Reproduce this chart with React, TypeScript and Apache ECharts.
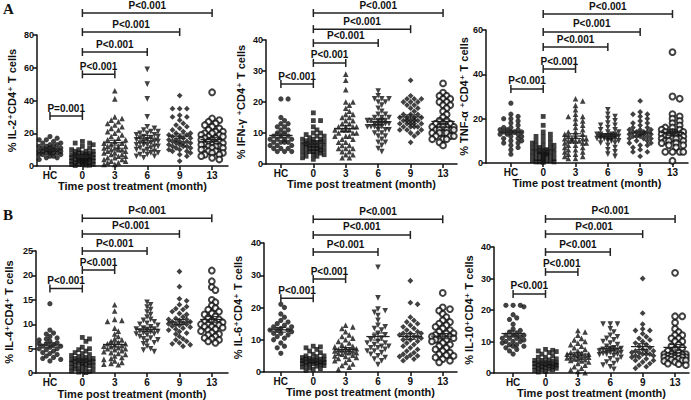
import React, { useEffect, useRef } from 'react';
import * as echarts from 'echarts';

const categories = ['HC', '0', '3', '6', '9', '13'];
const xTitle = 'Time post treatment (month)';
const comparisons = [[0, 1], [1, 2], [1, 3], [1, 4], [1, 5]];

// IL-2
const il2HC = [18, 17, 16, 16, 15, 14, 14, 13, 13, 12, 12, 11, 11, 10, 10, 10, 9, 9, 9, 8, 8, 8, 7, 7, 7, 6, 6, 5, 5, 4, 12, 11, 9, 8];
const il2M0 = [15, 14, 14, 13, 12, 11, 10, 10, 9, 9, 9, 8, 8, 8, 7, 7, 7, 7, 6, 6, 6, 6, 5, 5, 5, 5, 5, 4, 4, 4, 4, 3, 3, 3, 3, 2, 2, 2, 2, 1, 1, 1, 1, 0.5, 0.5, 0.3, 6, 5, 4, 3];
const il2M3 = [46, 41, 30, 29, 28, 27, 26, 25, 24, 23, 22, 21, 20, 19, 18, 17, 16, 16, 15, 14, 14, 13, 12, 12, 11, 11, 10, 10, 9, 9, 8, 8, 7, 7, 6, 6, 5, 5, 4, 4, 3, 3, 2, 2, 1, 1, 12, 10];
const il2M6 = [59, 50, 41, 30, 24, 23, 22, 21, 21, 20, 20, 19, 19, 18, 18, 17, 17, 16, 16, 15, 15, 14, 14, 13, 13, 12, 12, 11, 11, 10, 10, 9, 9, 8, 8, 7, 7, 6, 6, 5, 15, 13];
const il2M9 = [43, 35, 35, 35, 31, 30, 30, 28, 26, 25, 24, 23, 22, 21, 20, 20, 19, 19, 18, 18, 17, 17, 16, 16, 15, 15, 14, 14, 13, 13, 12, 12, 11, 11, 10, 10, 9, 9, 8, 7, 6, 3, 15, 14, 12];
const il2M13 = [45, 29, 28, 27, 26, 25, 24, 23, 22, 21, 21, 20, 20, 19, 19, 18, 18, 17, 17, 16, 16, 15, 15, 14, 14, 13, 13, 12, 12, 11, 11, 10, 10, 9, 9, 8, 8, 7, 7, 6, 5, 4, 13, 12];
const il2P = ['P=0.001', 'P<0.001', 'P<0.001', 'P<0.001', 'P<0.001'];

// IFN-gamma
const ifnHC = [21, 21, 15, 14, 13, 13, 12, 12, 11, 11, 10, 10, 9, 9, 8, 8, 8, 7, 7, 7, 6, 6, 6, 5, 5, 5, 4, 4, 4, 8, 9, 7];
const ifnM0 = [16.5, 14, 14, 12, 11, 10, 10, 9.5, 9, 9, 8.5, 8, 8, 8, 7.5, 7.5, 7, 7, 7, 6.5, 6.5, 6, 6, 6, 5.5, 5.5, 5, 5, 5, 4.5, 4.5, 4, 4, 4, 3.5, 3.5, 3, 3, 2.5, 2.5, 2, 1.5, 6, 5, 7, 4];
const ifnM3 = [29, 27, 24, 20, 20, 19, 18, 17, 16, 16, 15, 15, 14, 14, 13, 13, 12, 12, 12, 11, 11, 11, 10, 10, 10, 9, 9, 8, 8, 7, 7, 6, 6, 5, 5, 5, 4, 4, 3, 3, 2, 2, 11, 12, 9];
const ifnM6 = [23.5, 22, 21, 21, 21, 20, 20, 19, 18, 17, 16, 16, 15, 15, 15, 14, 14, 14, 14, 13, 13, 13, 13, 12, 12, 12, 12, 11, 11, 11, 10, 10, 9, 9, 8, 7, 7, 6, 5, 4, 13, 14, 12];
const ifnM9 = [27, 22, 21, 21, 21, 20, 20, 20, 19, 19, 18, 18, 17, 16, 16, 15, 15, 15, 14, 14, 14, 14, 13, 13, 13, 13, 12, 12, 12, 12, 11, 11, 11, 10, 10, 9, 7, 15, 16, 14, 13];
const ifnM13 = [26, 23, 22, 22, 21, 21, 20, 20, 19, 19, 18, 17, 16, 15, 14, 14, 13, 13, 12, 12, 12, 12, 11, 11, 11, 11, 11, 10, 10, 10, 10, 9, 9, 9, 8, 8, 8, 7, 6, 12, 11, 13];
const ifnP = ['P<0.001', 'P<0.001', 'P<0.001', 'P<0.001', 'P<0.001'];

// TNF-alpha
const tnfHC = [27, 22, 21, 20, 20, 19, 18, 17, 16, 16, 15, 15, 14, 14, 14, 13, 13, 12, 12, 11, 11, 10, 10, 9, 9, 8, 7, 6, 4, 15, 13, 14];
const tnfM0 = [21, 17, 14, 13, 12, 12, 11, 10, 10, 9, 9, 8, 8, 8, 7, 7, 7, 6, 6, 6, 5, 5, 5, 5, 4, 4, 4, 4, 3, 3, 3, 3, 2, 2, 2, 2, 1, 1, 1, 1, 0.5, 0.5, 0.5, 0.3, 6, 5, 4];
const tnfM3 = [29, 28, 26, 24, 22, 21, 21, 20, 19, 18, 17, 16, 15, 14, 14, 13, 13, 12, 12, 11, 11, 11, 10, 10, 10, 9, 9, 9, 8, 8, 7, 7, 6, 6, 5, 5, 4, 4, 3, 3, 2, 2, 11, 10];
const tnfM6 = [24, 22, 21, 20, 19, 18, 17, 17, 16, 15, 15, 14, 14, 13, 13, 13, 12, 12, 12, 12, 12, 11, 11, 11, 11, 11, 10, 10, 10, 9, 9, 8, 7, 6, 5, 4, 3, 12, 13, 11];
const tnfM9 = [28, 23, 22, 22, 21, 20, 19, 18, 18, 17, 16, 16, 15, 15, 15, 14, 14, 14, 13, 13, 13, 12, 12, 12, 11, 11, 11, 10, 10, 9, 9, 8, 8, 7, 6, 5, 5, 3, 14, 13, 12];
const tnfM13 = [50, 30, 29, 22, 21, 20, 19, 18, 17, 16, 16, 15, 15, 14, 14, 14, 13, 13, 13, 13, 12, 12, 12, 12, 11, 11, 11, 11, 10, 10, 10, 9, 9, 8, 8, 7, 5, 5, 5, 5, 1, 13, 12];
const tnfP = ['P<0.001', 'P<0.001', 'P<0.001', 'P<0.001', 'P<0.001'];

// IL-4
const il4HC = [14.2, 8.8, 8.2, 8, 7.5, 7.2, 7, 6.8, 6.5, 6.2, 6, 5.8, 5.5, 5.3, 5, 4.8, 4.5, 4.2, 4, 3.8, 3.5, 3.2, 3, 2.8, 2.5, 6, 5.5, 5];
const il4M0 = [7.3, 7, 6.5, 5.3, 5, 4.8, 4.5, 4.2, 4, 3.8, 3.6, 3.4, 3.2, 3, 3, 2.8, 2.6, 2.5, 2.4, 2.2, 2, 2, 1.8, 1.6, 1.5, 1.4, 1.2, 1, 1, 0.8, 0.6, 0.5, 0.4, 0.3, 0.2, 0.1, 2.5, 2.3, 2, 3, 1.5, 2.7];
const il4M3 = [14, 12.7, 11, 10.8, 10.6, 9.2, 8.6, 8, 7.5, 7, 6.8, 6.5, 6.3, 6, 5.8, 5.6, 5.4, 5.2, 5, 4.8, 4.6, 4.4, 4.2, 4, 3.8, 3.5, 3.2, 3, 2.8, 2.5, 2.2, 2, 1.8, 1.7, 5.5, 6, 5];
const il4M6 = [14.5, 14, 13.5, 13, 12.5, 12, 11.5, 11, 10.8, 10.5, 10.2, 10, 9.8, 9.5, 9.2, 9, 8.8, 8.6, 8.4, 8.2, 8, 7.8, 7.5, 7.2, 7, 6.8, 6.5, 6.2, 6, 5.5, 5, 4.7, 4.4, 9, 8.5, 8];
const il4M9 = [20.8, 17.7, 15.2, 14.8, 14, 13.6, 13.2, 13, 12.6, 12.2, 12, 11.5, 11.2, 11, 10.8, 10.5, 10.3, 10.1, 10, 9.8, 9.6, 9.4, 9.2, 9, 8.8, 8.5, 8.2, 8, 7.5, 7, 6.8, 6.5, 6.2, 6, 5.8, 5.5, 10.5, 10, 11];
const il4M13 = [21, 18.8, 17.6, 17, 15, 14.5, 13.8, 13.3, 13, 12.6, 12.2, 12, 11.6, 11.3, 11, 10.7, 10.4, 10.2, 10, 9.8, 9.5, 9.3, 9, 8.8, 8.6, 8.3, 8, 7.8, 7.5, 7.2, 7, 6.8, 6.5, 6.2, 10, 9.5, 10.5];
const il4P = ['P<0.001', 'P<0.001', 'P<0.001', 'P<0.001', 'P<0.001'];

// IL-6
const il6HC = [21, 20, 18, 17, 16, 15.5, 15, 14.5, 14, 13.5, 13, 13, 12.5, 12, 12, 11.5, 11, 10.5, 10, 9, 8, 7.5, 5.8, 13, 14];
const il6M0 = [8, 7.8, 7.5, 7, 6.5, 6, 5.5, 5, 5, 4.8, 4.5, 4.2, 4, 4, 3.8, 3.5, 3.3, 3, 3, 2.8, 2.5, 2.3, 2, 2, 1.8, 1.5, 1.2, 1, 0.8, 0.5, 3.5, 3, 4, 2.5, 3.2, 2.7];
const il6M3 = [14.5, 14, 13.5, 12.5, 11.5, 11, 10.5, 10, 9.5, 9, 8.5, 8, 7.8, 7.5, 7.2, 7, 6.8, 6.5, 6.2, 6, 5.8, 5.5, 5.2, 5, 4.8, 4.5, 4.2, 4, 3.5, 3, 2.5, 2, 1.5, 0.8, 6.5, 6, 7];
const il6M6 = [32.5, 23, 19.5, 19, 18.5, 17.5, 16, 14.5, 14, 13.5, 13, 12, 11.5, 11, 10.5, 10, 9.5, 9, 8.5, 8, 7.5, 7, 6.5, 6, 5.5, 5, 4.5, 4, 3.5, 2.3, 9, 8, 7.5, 6.5];
const il6M9 = [28.3, 21.5, 21, 17, 16, 15.5, 15, 14.5, 14, 13.5, 13, 12.5, 12, 12, 11.5, 11, 11, 10.5, 10, 10, 9.5, 9, 8.5, 8, 7.5, 7, 6.5, 6, 5.5, 5.2, 5, 4.8, 4.5, 4, 3.5, 11, 12];
const il6M13 = [24.5, 20, 19.5, 19, 18, 17, 16, 15.5, 15, 14.5, 14, 13.5, 13, 12.5, 12, 11.5, 11, 11, 10.5, 10, 10, 9.5, 9, 8.5, 8, 7.5, 7, 6.5, 6, 5.5, 5.2, 5, 4.5, 4, 3.5, 3, 11, 12, 10];
const il6P = ['P<0.001', 'P<0.001', 'P<0.001', 'P<0.001', 'P<0.001'];

// IL-10
const il10HC = [21.5, 21.5, 21.5, 21, 18.5, 17.5, 17, 15.5, 14, 13.5, 13, 12.5, 12, 12, 11.5, 11, 11, 10.5, 10, 10, 9.5, 9, 8.5, 8, 7.5, 7, 6, 12, 11, 9, 10, 8.5];
const il10M0 = [7.5, 7.2, 7, 6.8, 6.5, 6, 5.5, 5, 5, 4.5, 4.2, 4, 4, 3.8, 3.5, 3.2, 3, 3, 2.8, 2.5, 2.3, 2, 2, 1.8, 1.5, 1.2, 1, 0.8, 0.5, 0.3, 3, 2.5, 2, 3.5, 1.5, 2.7, 1];
const il10M3 = [13.5, 13, 12, 11, 10.5, 10, 9.5, 9, 8.5, 8, 7.5, 7, 6.5, 6.2, 6, 5.8, 5.5, 5.2, 5, 4.8, 4.5, 4.2, 4, 3.8, 3.5, 3, 2.5, 2, 1.5, 1, 0.5, 0.1, 5, 5.5, 4.5, 6];
const il10M6 = [15.5, 15.5, 15.5, 14, 13, 12, 11.5, 11, 10.5, 10, 9.5, 9, 8.5, 8, 7.8, 7.5, 7.2, 7, 6.8, 6.5, 6.2, 6, 5.8, 5.5, 5, 4.5, 4, 3.5, 3, 2.5, 2, 1.2, 7, 6.5, 7.5, 6];
const il10M9 = [30, 19, 15.5, 14, 13.5, 13.5, 12.5, 11.5, 11, 10.5, 10, 9.5, 9, 8.5, 8, 7.5, 7, 7, 6.5, 6.5, 6, 6, 5.5, 5, 5, 4.5, 4, 4, 3.5, 3, 2.5, 2, 1.5, 6, 5.5, 7];
const il10M13 = [31.8, 18, 18, 16, 14, 13, 12, 12, 11, 11, 10, 10, 9, 8.5, 8, 7.5, 7, 6.5, 6, 6, 5.8, 5.5, 5.5, 5.2, 5, 5, 4.8, 4.5, 4.5, 4.2, 4, 4, 3.8, 3.5, 3, 2.8, 2.5, 5, 6, 5.5];
const il10P = ['P<0.001', 'P<0.001', 'P<0.001', 'P<0.001', 'P<0.001'];

const FONT = '"Liberation Sans", Arial, "DejaVu Sans", sans-serif';
const INK = '#111';

const panels = [
  { title: '% IL-2⁺CD4⁺ T cells', groups: [il2HC, il2M0, il2M3, il2M6, il2M9, il2M13], p: il2P,
    ymax: 80, interval: 20, left: 37, top: 35, width: 191, height: 131, xmin: -0.4, xmax: 5.49, nameGap: 20,
    levels: [30.5, 56, 69.6, 81.8, 93.4] },
  { title: '% IFN-γ ⁺CD4⁺ T cells', groups: [ifnHC, ifnM0, ifnM3, ifnM6, ifnM9, ifnM13], p: ifnP,
    ymax: 40, interval: 10, left: 266, top: 40, width: 191, height: 124, xmin: -0.46, xmax: 5.43, nameGap: 20,
    levels: [25.8, 32.6, 39.0, 43.5, 48.7] },
  { title: '% TNF-α ⁺CD4⁺ T cells', groups: [tnfHC, tnfM0, tnfM3, tnfM6, tnfM9, tnfM13], p: tnfP,
    ymax: 60, interval: 20, left: 486, top: 30, width: 202, height: 133, xmin: -0.77, xmax: 5.48, nameGap: 14,
    levels: [33.4, 42.4, 52.3, 59.1, 67.2] },
  { title: '% IL-4⁺CD4⁺ T cells', groups: [il4HC, il4M0, il4M3, il4M6, il4M9, il4M13], p: il4P,
    ymax: 25, interval: 5, left: 36, top: 251, width: 192, height: 123, xmin: -0.43, xmax: 5.5, nameGap: 22,
    levels: [17.3, 21.1, 25, 28.5, 31.7] },
  { title: '% IL-6⁺CD4⁺ T cells', groups: [il6HC, il6M0, il6M3, il6M6, il6M9, il6M13], p: il6P,
    ymax: 40, interval: 10, left: 264, top: 243, width: 193, height: 129, xmin: -0.52, xmax: 5.44, nameGap: 21,
    levels: [22.9, 28.8, 37.2, 42.5, 47.4] },
  { title: '% IL-10⁺CD4⁺ T cells', groups: [il10HC, il10M0, il10M3, il10M6, il10M9, il10M13], p: il10P,
    ymax: 40, interval: 10, left: 494, top: 247, width: 195, height: 126, xmin: -0.59, xmax: 5.43, nameGap: 20,
    levels: [25.1, 32.1, 38.4, 44.1, 48.9] },
];

const symbolFor = ['circle', 'rect', 'triangle', 'triangle', 'diamond', 'emptyCircle'];
const rotateFor = [0, 0, 0, 180, 0, 0];
const sizeFor = [5.2, 4.8, 5.6, 5.6, 5.8, 5.8];

// beeswarm layout: spreads points horizontally (in px) to limit overlap
function swarm(values: number[], pxPerY: number, pxPerCat: number, cat: number): number[][] {
  const order = values.map((_, i) => i).sort((a, b) => values[b] - values[a]);
  const placed: { x: number; y: number }[] = [];
  const out: number[][] = [];
  const d = 4.3, step = 3.6, kMax = 3;
  for (const i of order) {
    const y = values[i] * pxPerY;
    let best = 0, bestScore = -1;
    for (let k = 0; k <= 2 * kMax; k++) {
      const off = (k % 2 === 1 ? 1 : -1) * Math.ceil(k / 2) * step;
      let minD = Infinity;
      for (const p of placed) {
        const dd = Math.hypot(p.x - off, p.y - y);
        if (dd < minD) minD = dd;
      }
      if (minD >= d) { best = off; break; }
      if (minD > bestScore) { bestScore = minD; best = off; }
    }
    placed.push({ x: best, y });
    out.push([cat + best / pxPerCat, values[i]]);
  }
  return out;
}

function meanSem(v: number[]) {
  const n = v.length;
  const m = v.reduce((a, b) => a + b, 0) / n;
  const sd = Math.sqrt(v.reduce((a, b) => a + (b - m) * (b - m), 0) / (n - 1));
  return [m, sd / Math.sqrt(n)];
}

function buildOption() {
  const grid: any[] = [], xAxis: any[] = [], yAxis: any[] = [], series: any[] = [];
  const catIdx = [0, 1, 2, 3, 4, 5];
  panels.forEach((pn, i) => {
    grid.push({ left: pn.left, top: pn.top, width: pn.width, height: pn.height });
    xAxis.push({
      gridIndex: i, type: 'value', min: pn.xmin, max: pn.xmax,
      axisLine: { show: true, onZero: false, lineStyle: { color: INK, width: 1.5 } },
      axisTick: { show: true, customValues: catIdx, length: 4, lineStyle: { color: INK, width: 1.5 } },
      axisLabel: { customValues: catIdx, formatter: (v: number) => categories[Math.round(v)], fontSize: 10, fontWeight: 'bold', color: INK, fontFamily: FONT, margin: 4 },
      splitLine: { show: false },
      name: xTitle, nameLocation: 'middle', nameGap: 14,
      nameTextStyle: { fontSize: 11, fontWeight: 'bold', color: INK, fontFamily: FONT },
    });
    yAxis.push({
      gridIndex: i, type: 'value', min: 0, max: pn.ymax, interval: pn.interval,
      axisLine: { show: true, onZero: false, lineStyle: { color: INK, width: 1.5 } },
      axisTick: { show: true, length: 4, lineStyle: { color: INK, width: 1.5 } },
      axisLabel: { fontSize: 9, fontWeight: 'bold', color: INK, fontFamily: FONT, margin: 3 },
      splitLine: { show: false },
      name: pn.title, nameLocation: 'middle', nameGap: pn.nameGap, nameRotate: 90,
      nameTextStyle: { fontSize: 11, fontWeight: 'bold', color: INK, fontFamily: FONT },
    });
    const pxPerY = pn.height / pn.ymax;
    const pxPerCat = pn.width / (pn.xmax - pn.xmin);
    pn.groups.forEach((vals, g) => {
      const open = symbolFor[g] === 'emptyCircle';
      series.push({
        type: 'scatter', xAxisIndex: i, yAxisIndex: i,
        data: swarm(vals, pxPerY, pxPerCat, g),
        symbol: symbolFor[g], symbolSize: sizeFor[g], symbolRotate: rotateFor[g],
        itemStyle: open ? { color: INK, borderColor: INK, borderWidth: 1.1 } : { color: INK },
        z: 2,
      });
    });
    const stats = pn.groups.map((v, g) => { const [m, s] = meanSem(v); return [g, m, s]; });
    series.push({
      type: 'custom', xAxisIndex: i, yAxisIndex: i, data: stats, z: 4, clip: false,
      renderItem: (params: any, api: any) => {
        const c = api.value(0), m = api.value(1), s = api.value(2);
        const a = api.coord([c - 0.36, m]), b = api.coord([c + 0.36, m]);
        const up = api.coord([c, m + s]), dn = api.coord([c, m - s]);
        const cl = api.coord([c - 0.17, m]), cr = api.coord([c + 0.17, m]);
        const st = { stroke: '#222', lineWidth: 1 };
        return {
          type: 'group', children: [
            { type: 'line', shape: { x1: a[0], y1: a[1], x2: b[0], y2: b[1] }, style: { stroke: '#222', lineWidth: 1.2 } },
            { type: 'line', shape: { x1: up[0], y1: up[1], x2: dn[0], y2: dn[1] }, style: st },
            { type: 'line', shape: { x1: cl[0], y1: up[1], x2: cr[0], y2: up[1] }, style: st },
            { type: 'line', shape: { x1: cl[0], y1: dn[1], x2: cr[0], y2: dn[1] }, style: st },
          ],
        };
      },
    });
    const brackets = comparisons.map((c, k) => [c[0], c[1], pn.levels[k]]);
    series.push({
      type: 'custom', xAxisIndex: i, yAxisIndex: i, data: brackets, z: 5, clip: false,
      renderItem: (params: any, api: any) => {
        const p1 = api.coord([api.value(0), api.value(2)]);
        const p2 = api.coord([api.value(1), api.value(2)]);
        const st = { stroke: '#222', lineWidth: 1.5 };
        return {
          type: 'group', children: [
            { type: 'line', shape: { x1: p1[0], y1: p1[1], x2: p2[0], y2: p2[1] }, style: st },
            { type: 'line', shape: { x1: p1[0], y1: p1[1] - 4, x2: p1[0], y2: p1[1] + 4 }, style: st },
            { type: 'line', shape: { x1: p2[0], y1: p2[1] - 4, x2: p2[0], y2: p2[1] + 4 }, style: st },
            { type: 'text', x: (p1[0] + p2[0]) / 2, y: p1[1] - 3,
              style: { text: pn.p[params.dataIndex], fontSize: 10, fontWeight: 'bold', fontFamily: FONT, fill: INK, align: 'center', verticalAlign: 'bottom' } },
          ],
        };
      },
    });
  });
  return {
    animation: false,
    backgroundColor: '#fff',
    grid, xAxis, yAxis, series,
    graphic: [
      { type: 'text', left: 3, top: 1, style: { text: 'A', fontSize: 15, fontWeight: 'bold', fontFamily: '"Liberation Serif", "Times New Roman", serif', fill: INK } },
      { type: 'text', left: 3, top: 207, style: { text: 'B', fontSize: 15, fontWeight: 'bold', fontFamily: '"Liberation Serif", "Times New Roman", serif', fill: INK } },
    ],
  };
}

export default function App() {
  const ref = useRef<HTMLDivElement>(null);
  useEffect(() => {
    document.body.style.margin = '0';
    if (!ref.current) return;
    const chart = echarts.init(ref.current, null, { renderer: 'svg' });
    chart.setOption(buildOption() as any);
    return () => chart.dispose();
  }, []);
  return <div ref={ref} style={{ width: 691, height: 400 }} />;
}
